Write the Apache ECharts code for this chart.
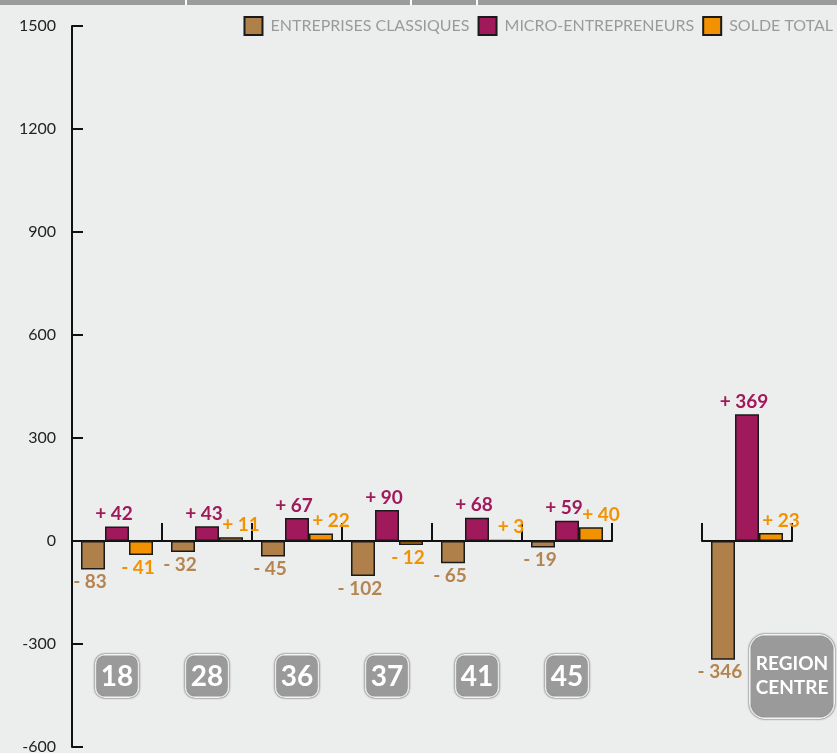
<!DOCTYPE html>
<html>
<head>
<meta charset="utf-8">
<script src="https://cdn.jsdelivr.net/npm/echarts@6/dist/echarts.min.js"></script>
<style>
  html, body { margin: 0; padding: 0; background: #eceeed; }
  #chart { width: 837px; height: 753px; }
</style>
</head>
<body>
<div id="chart"></div>
<script>
// départements
const departements = ['18', '28', '36', '37', '41', '45']
const classiques = [-83, -32, -45, -102, -65, -19]
const micro = [42, 43, 67, 90, 68, 59]
const solde = [-41, 11, 22, -12, 3, 40]
// région
const region = ['REGION\nCENTRE']
const regionClassiques = [-346]
const regionMicro = [369]
const regionSolde = [23]

const seriesNames = ['ENTREPRISES CLASSIQUES', 'MICRO-ENTREPRENEURS', 'SOLDE TOTAL']
const colors = ['#b0804a', '#a0195a', '#f39200']
const labelColors = ['#b5844f', '#a0195a', '#f39200']

const fmt = p => (p.value > 0 ? '+ ' : '- ') + Math.abs(p.value)

const makeSeries = (i, data, axisIndex) => ({
  name: seriesNames[i],
  type: 'bar',
  xAxisIndex: axisIndex,
  yAxisIndex: axisIndex,
  barWidth: 24,
  barGap: '0%',
  data: data.map(v => ({
    value: v,
    label: {
      position: v >= 0 ? 'top' : 'bottom',
      // les soldes positifs sont décalés vers la droite
      offset: i === 2 && v > 0 ? [10, 0] : [-3, 0]
    }
  })),
  itemStyle: { color: colors[i], borderColor: '#1a1a1a', borderWidth: 1.5 },
  label: {
    show: true,
    distance: 3,
    formatter: fmt,
    color: labelColors[i],
    fontFamily: 'Lato',
    fontWeight: 'bold',
    fontSize: 19
  }
})

const yAxisBase = {
  type: 'value',
  min: -600,
  max: 1500,
  interval: 300,
  splitLine: { show: false }
}

const xAxisBase = {
  type: 'category',
  axisLine: { onZero: true, lineStyle: { color: '#111', width: 2 } },
  axisTick: { show: true, inside: true, length: 18, lineStyle: { color: '#111', width: 2 } }
}

const boxLabel = {
  color: '#fff',
  fontFamily: 'Lato',
  fontWeight: 'bold',
  backgroundColor: '#9a9a9a',
  borderColor: '#fff',
  borderWidth: 2,
  shadowColor: '#222',
  shadowBlur: 2
}

const chart = echarts.init(document.getElementById('chart'))
chart.setOption({
  backgroundColor: '#eceeed',
  animation: false,
  graphic: [
    { type: 'rect', shape: { x: 0, y: 0, width: 837, height: 5 }, style: { fill: '#9b9b9b' } },
    { type: 'rect', shape: { x: 185, y: 0, width: 2, height: 5 }, style: { fill: '#fff' } },
    { type: 'rect', shape: { x: 410, y: 0, width: 2, height: 5 }, style: { fill: '#fff' } },
    { type: 'rect', shape: { x: 476, y: 0, width: 2, height: 5 }, style: { fill: '#fff' } }
  ],
  legend: {
    data: seriesNames,
    right: 4,
    top: 16,
    padding: 0,
    itemWidth: 18,
    itemHeight: 18,
    itemGap: 8,
    icon: 'rect',
    textStyle: { color: '#9a9a9a', fontSize: 16, fontFamily: 'Lato', padding: [0, 0, 0, 3] }
  },
  grid: [
    { left: 72, top: 26, width: 540, bottom: 6, outerBoundsMode: 'none', containLabel: false },
    { left: 702, top: 26, width: 90, bottom: 6, outerBoundsMode: 'none', containLabel: false }
  ],
  xAxis: [
    {
      ...xAxisBase,
      gridIndex: 0,
      data: departements,
      axisLabel: {
        ...boxLabel,
        margin: -91,
        fontSize: 28,
        lineHeight: 32,
        borderRadius: 8,
        padding: [5, 4, 3, 4]
      }
    },
    {
      ...xAxisBase,
      gridIndex: 1,
      data: region,
      axisLabel: { show: false }
    },
    {
      // axe des étiquettes de la région, centré sur le bord droit
      type: 'category',
      gridIndex: 1,
      position: 'bottom',
      boundaryGap: false,
      data: [
        { value: '', textStyle: { backgroundColor: 'transparent', borderWidth: 0, shadowBlur: 0, padding: 0 } },
        region[0]
      ],
      axisLine: { show: false },
      axisTick: { show: false },
      axisLabel: {
        ...boxLabel,
        interval: 0,
        showMaxLabel: true,
        hideOverlap: false,
        margin: -111,
        fontSize: 19,
        lineHeight: 24,
        width: 74,
        borderRadius: 14,
        padding: [16, 4, 17, 4]
      }
    }
  ],
  yAxis: [
    {
      ...yAxisBase,
      gridIndex: 0,
      axisLine: { show: true, lineStyle: { color: '#111', width: 2 } },
      axisTick: { show: true, inside: true, length: 11, lineStyle: { color: '#111', width: 2 } },
      axisLabel: { color: '#222', fontSize: 16, fontFamily: 'Lato', margin: 16, formatter: v => String(v) }
    },
    {
      ...yAxisBase,
      gridIndex: 1,
      show: false
    }
  ],
  series: [
    makeSeries(0, classiques, 0),
    makeSeries(1, micro, 0),
    makeSeries(2, solde, 0),
    makeSeries(0, regionClassiques, 1),
    makeSeries(1, regionMicro, 1),
    makeSeries(2, regionSolde, 1)
  ]
})
</script>
</body>
</html>
